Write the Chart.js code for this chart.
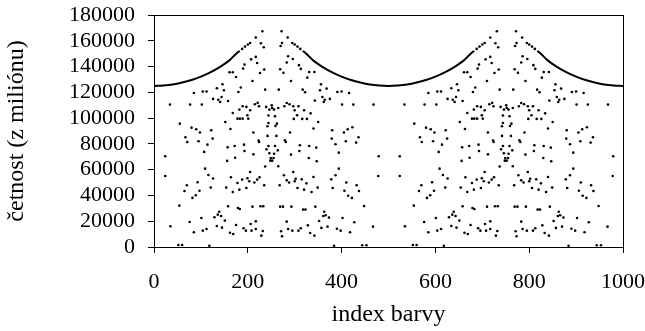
<!DOCTYPE html>
<html>
<head>
<meta charset="utf-8">
<script src="https://cdn.jsdelivr.net/npm/chart.js@4.4.0/dist/chart.umd.min.js"></script>
<style>
  html, body { margin: 0; padding: 0; background: #fff; }
</style>
</head>
<body>
<canvas id="myChart" width="645" height="331"></canvas>
<script>
// tick labels
const xTickValues = [0, 200, 400, 600, 800, 1000];
const yTickValues = [0, 20000, 40000, 60000, 80000, 100000, 120000, 140000, 160000, 180000];

// upper envelope, smooth parts (index, frequency)
const riseIdx = [0, 20, 40, 60, 80, 100, 120, 140, 160, 177, 183];
const riseVal = [125000, 125300, 126100, 127600, 129600, 132200, 135500, 139600, 144600, 150600, 152100];
const valleyIdx = [317, 323, 340, 360, 380, 400, 420, 440, 460, 480, 500, 520, 540, 560, 580, 600, 620, 640, 660, 677, 683];
const valleyVal = [152100, 150600, 144600, 139600, 135500, 132200, 129600, 127600, 126100, 125300, 125000, 125300, 126100, 127600, 129600, 132200, 135500, 139600, 144600, 150600, 152100];
const fallIdx = [817, 823, 840, 860, 880, 900, 920, 940, 960, 980, 1000];
const fallVal = [152100, 150600, 144600, 139600, 135500, 132200, 129600, 127600, 126100, 125300, 125000];

// upper envelope near the peaks, separate dots
const peakDots = [
  [188,153700],[194,155500],[200,157100],[205,158300],[217,162500],[231,167400],
  [272,167400],[285,162500],[295,158300],[300,157100],[306,155500],[312,153700],
  [688,153700],[694,155500],[700,157100],[705,158300],[717,162500],[731,167400],
  [772,167400],[785,162500],[795,158300],[800,157100],[806,155500],[812,153700]
];

// scattered counts, first half (0-500)
const dotsFirst = [
  [80,92600],[90,91400],[98,88800],[122,90600],[163,91600],[242,93700],
  [67,85100],[71,81500],[95,82000],[125,84100],[114,79400],[157,77400],[172,78400],[192,79400],[212,88800],[223,82600],[224,81500],[244,78400],[242,86200],
  [24,70400],[107,73800],[193,74500],[212,71900],[246,72700],[240,75800],
  [156,66800],[173,69300],
  [109,60800],[116,55900],[126,53100],[205,58200],[237,62400],
  [24,55100],[164,54100],[154,46100],[178,49700],[188,52300],[199,53300],[203,51000],[214,50000],[220,52300],[225,54100],[235,47900],[168,42700],[182,44500],[197,45800],
  [70,47900],[65,43500],[93,50200],[97,43700],[121,46100],[89,40100],[82,38100],
  [54,32100],[158,31600],[179,30300],[183,29500],[210,31300],[227,31600],[233,31600],
  [139,27400],[136,25100],[143,24100],[129,23100],[101,22500],[151,20500],[76,19400],[217,19900],[206,17900],
  [134,16300],[145,15000],[175,17100],[191,14500],[196,12700],[208,12700],[217,14000],[232,12400],[162,11100],[169,10100],[35,16100],[85,11400],[104,12700],[112,14000],[229,8800],
  [52,1500],[60,1500],[118,1000],
  [228,158100],[234,155000],[235,137700],[207,145600],[217,147500],[220,142800],[193,141500],[190,138400],[226,135000],[210,128800],[175,131900],[161,135600],[168,135600],[237,122100],[146,126300],[134,123200],[149,121600],[85,119500],[104,120600],[112,120600],[185,123700],[180,120300],[144,116400],[126,114900],[137,114300],[141,112500],[158,113300],[34,110500],[77,110500],[102,110500],[189,109200],[197,108700],[215,110700],[221,111800],[224,109200],[239,108700],[182,106600],[205,106100],[168,104000],[199,102200],[201,99600],[178,99600],[183,99600],[189,99600],[152,97000],[244,96200],[55,95700],
  [273,158300],[270,156000],[286,148000],[283,143100],[296,145900],[269,137900],[276,135100],[309,141100],[313,138200],[331,135800],[342,135800],[327,131400],[292,128800],[356,126200],[266,122100],[317,122100],[322,120100],[354,121600],[368,122900],[391,120300],[400,120600],[416,119500],[343,113600],[359,116400],[364,114300],[362,112500],[375,114900],[401,110500],[425,110500],[468,110500],[334,103700],[251,109900],[252,107900],[246,106600],[256,106600],[265,107900],[278,109200],[283,111700],[289,110700],[297,109200],[308,109200],[300,106100],[305,102200],[298,99400],[320,106100],[316,99400],[326,99400],[244,102000],[258,101400],[262,95700],[350,97000],
  [259,93900],[340,91900],[380,90600],[405,88800],[413,91400],[423,92900],[290,88800],[261,86200],[279,82800],[281,81500],[379,84100],[387,79700],[409,82000],[436,85100],[431,81000],[311,78900],[331,78400],[346,77100],[258,78400],[264,75000],[256,72400],[310,74500],[292,71700],[394,73200],[249,69100],[255,69100],[248,67000],[252,67000],[330,69100],[347,66500],[479,70400],[265,62600],[394,60800],[387,55700],[297,58200],[277,55700],[283,51700],[288,50000],[302,53000],[300,51000],[315,52500],[325,49400],[340,54300],[378,52500],[410,50000],[432,47900],[268,47900],[306,45800],[320,44500],[336,42700],[349,46100],[381,45800],[406,43700],[414,39800],[422,38100],[437,43500],[478,55100],[269,31300],[275,31300],[293,31300],[318,29000],[323,29000],[344,31300],[363,27400],[366,24600],[361,24100],[373,22800],[352,20200],[402,22500],[448,31800],[283,19700],[427,19200],[467,15800],[271,12200],[286,14000],[295,12700],[308,12700],[313,14500],[328,16800],[333,10900],[342,8800],[357,14800],[370,15800],[390,14200],[398,12700],[418,11400],[273,8300],[384,1000],[444,1300],[453,1300]
];

// scattered counts, second half (500-1000)
const dotsSecond = [
  [580,92600],[590,91400],[598,88800],[622,90600],[663,91600],[742,93700],
  [567,85100],[571,81500],[595,82000],[625,84100],[614,79400],[657,77400],[672,78400],[692,79400],[712,88800],[723,82600],[724,81500],[744,78400],[742,86200],
  [524,70400],[607,73800],[693,74500],[712,71900],[746,72700],[740,75800],
  [656,66800],[673,69300],
  [609,60800],[616,55900],[626,53100],[705,58200],[737,62400],
  [524,55100],[664,54100],[654,46100],[678,49700],[688,52300],[699,53300],[703,51000],[714,50000],[720,52300],[725,54100],[735,47900],[668,42700],[682,44500],[697,45800],
  [570,47900],[565,43500],[593,50200],[597,43700],[621,46100],[589,40100],[582,38100],
  [554,32100],[658,31600],[679,30300],[683,29500],[710,31300],[727,31600],[733,31600],
  [639,27400],[636,25100],[643,24100],[629,23100],[601,22500],[651,20500],[576,19400],[717,19900],[706,17900],
  [634,16300],[645,15000],[675,17100],[691,14500],[696,12700],[708,12700],[717,14000],[732,12400],[662,11100],[669,10100],[535,16100],[585,11400],[604,12700],[612,14000],[729,8800],
  [552,1500],[560,1500],[618,1000],
  [728,158100],[734,155000],[735,137700],[707,145600],[717,147500],[720,142800],[693,141500],[690,138400],[726,135000],[710,128800],[675,131900],[661,135600],[668,135600],[737,122100],[646,126300],[634,123200],[649,121600],[585,119500],[604,120600],[612,120600],[685,123700],[680,120300],[644,116400],[626,114900],[637,114300],[641,112500],[658,113300],[534,110500],[577,110500],[602,110500],[689,109200],[697,108700],[715,110700],[721,111800],[724,109200],[739,108700],[682,106600],[705,106100],[668,104000],[699,102200],[701,99600],[678,99600],[683,99600],[689,99600],[652,97000],[744,96200],[555,95700],
  [773,158300],[770,156000],[786,148000],[783,143100],[796,145900],[769,137900],[776,135100],[809,141100],[813,138200],[831,135800],[842,135800],[827,131400],[792,128800],[856,126200],[766,122100],[817,122100],[822,120100],[854,121600],[868,122900],[891,120300],[900,120600],[916,119500],[843,113600],[859,116400],[864,114300],[862,112500],[875,114900],[901,110500],[925,110500],[968,110500],[834,103700],[751,109900],[752,107900],[746,106600],[756,106600],[765,107900],[778,109200],[783,111700],[789,110700],[797,109200],[808,109200],[800,106100],[805,102200],[798,99400],[820,106100],[816,99400],[826,99400],[744,102000],[758,101400],[762,95700],[850,97000],
  [759,93900],[840,91900],[880,90600],[905,88800],[913,91400],[923,92900],[790,88800],[761,86200],[779,82800],[781,81500],[879,84100],[887,79700],[909,82000],[936,85100],[931,81000],[811,78900],[831,78400],[846,77100],[758,78400],[764,75000],[756,72400],[810,74500],[792,71700],[894,73200],[749,69100],[755,69100],[748,67000],[752,67000],[830,69100],[847,66500],[979,70400],[765,62600],[894,60800],[887,55700],[797,58200],[777,55700],[783,51700],[788,50000],[802,53000],[800,51000],[815,52500],[825,49400],[840,54300],[878,52500],[910,50000],[932,47900],[768,47900],[806,45800],[820,44500],[836,42700],[849,46100],[881,45800],[906,43700],[914,39800],[922,38100],[937,43500],[978,55100],[769,31300],[775,31300],[793,31300],[818,29000],[823,29000],[844,31300],[863,27400],[866,24600],[861,24100],[873,22800],[852,20200],[902,22500],[948,31800],[783,19700],[927,19200],[967,15800],[771,12200],[786,14000],[795,12700],[808,12700],[813,14500],[828,16800],[833,10900],[842,8800],[857,14800],[870,15800],[890,14200],[898,12700],[918,11400],[773,8300],[884,1000],[944,1300],[953,1300]
];

const toPoints = (xs, ys) => xs.map((x, i) => ({ x: x, y: ys[i] }));
const pairsToPoints = arr => arr.map(p => ({ x: p[0], y: p[1] }));

const curveStyle = {
  showLine: true,
  borderColor: '#000',
  borderWidth: 2,
  pointRadius: 0,
  tension: 0.4,
  fill: false
};
const dotStyle = {
  showLine: false,
  pointRadius: 1.3,
  pointBorderWidth: 0,
  pointBackgroundColor: '#000',
  borderColor: '#000'
};

// full box around the plot
const framePlugin = {
  id: 'frame',
  afterDatasetsDraw(chart) {
    const { ctx, chartArea: a } = chart;
    ctx.save();
    ctx.strokeStyle = '#000';
    ctx.lineWidth = 1;
    ctx.strokeRect(Math.round(a.left) + 0.5, Math.round(a.top) + 0.5, Math.round(a.right - a.left), Math.round(a.bottom - a.top));
    ctx.restore();
  }
};

Chart.defaults.font.family = '"Liberation Serif", "Times New Roman", serif';
Chart.defaults.font.size = 22;
Chart.defaults.color = '#000';

const data = {
  datasets: [
    Object.assign({ data: toPoints(riseIdx, riseVal) }, curveStyle),
    Object.assign({ data: toPoints(valleyIdx, valleyVal) }, curveStyle),
    Object.assign({ data: toPoints(fallIdx, fallVal) }, curveStyle),
    Object.assign({ data: pairsToPoints(peakDots) }, dotStyle),
    Object.assign({ data: pairsToPoints(dotsFirst) }, dotStyle),
    Object.assign({ data: pairsToPoints(dotsSecond) }, dotStyle)
  ]
};

const config = {
  type: 'scatter',
  data: data,
  plugins: [framePlugin],
  options: {
    responsive: false,
    animation: false,
    devicePixelRatio: 1,
    layout: { padding: { top: 15, right: 22, left: 0, bottom: 0 } },
    plugins: {
      legend: { display: false },
      tooltip: { enabled: false }
    },
    scales: {
      x: {
        type: 'linear',
        min: 0,
        max: 1000,
        afterBuildTicks: scale => { scale.ticks = xTickValues.map(v => ({ value: v })); },
        afterFit: scale => { scale.height = 84; scale.paddingLeft = 0; scale.paddingRight = 0; },
        grid: { drawOnChartArea: false, tickLength: 6, color: '#000', lineWidth: 1 },
        border: { display: true, color: '#000', width: 1 },
        ticks: { padding: 16, maxRotation: 0, autoSkip: false, callback: v => String(v) },
        title: { display: true, text: 'index barvy', font: { size: 24 }, padding: { top: 0, bottom: 2 } }
      },
      y: {
        type: 'linear',
        min: 0,
        max: 180000,
        afterBuildTicks: scale => { scale.ticks = yTickValues.map(v => ({ value: v })); },
        afterFit: scale => { scale.width = 154; scale.paddingTop = 0; scale.paddingBottom = 0; },
        grid: { drawOnChartArea: false, tickLength: 6, color: '#000', lineWidth: 1 },
        border: { display: true, color: '#000', width: 1 },
        ticks: { padding: 13, autoSkip: false, callback: v => String(v) },
        title: { display: true, text: 'četnost (z miliónu)', font: { size: 24 }, padding: { top: 2, bottom: 0 } }
      }
    }
  }
};

const myChart = new Chart(document.getElementById('myChart'), config);
</script>
</body>
</html>
